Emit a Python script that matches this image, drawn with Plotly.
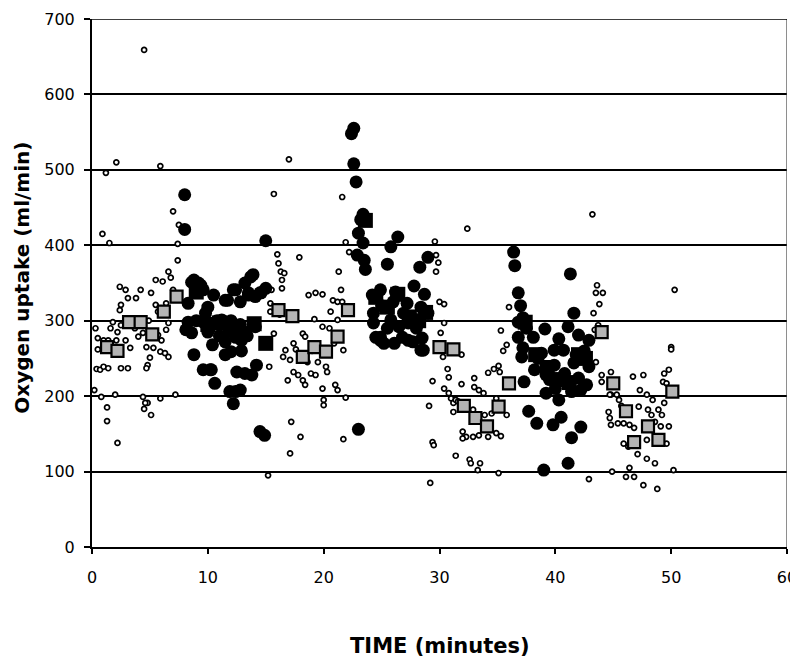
import plotly.graph_objects as go

# ---------------- data ----------------
# small open circles: breath-by-breath recovery data (time in min, VO2 in ml/min)
open_x = [
    0.3, 0.5, 0.5, 0.4, 0.2, 0.8, 1.3, 1.3, 2.2, 2.0, 0.9, 1.5, 1.2, 2.1, 4.5, 5.9,
    1.0, 1.4, 2.1, 2.9, 1.8, 1.6, 2.5, 0.7, 1.0, 1.4, 2.5, 3.1,
    2.4, 2.9, 3.1, 3.8, 4.2, 5.1, 2.5, 2.4, 5.5, 6.4, 5.7,
    3.7, 4.0, 4.4, 5.7, 6.4, 6.0, 3.3, 4.7, 5.3, 5.9, 6.3, 6.6, 5.0, 4.8, 4.7,
    4.4, 5.9, 7.2, 4.8, 4.6, 4.5, 5.1,
    5.5, 6.1, 6.6, 6.8, 7.0, 7.4, 7.4, 7.0, 7.5, 3.0, 4.9, 6.6, 2.2,
    15.2, 15.4, 15.3, 15.5, 15.7, 15.7, 17.0, 16.1, 16.3, 16.4, 16.4, 16.0, 16.6, 16.5, 16.7,
    16.9, 17.4, 17.1, 17.4, 17.8, 18.2, 18.4, 18.2, 18.4, 18.9, 19.3, 19.6, 19.9, 20.5, 19.5,
    19.9, 20.2, 20.3, 20.0, 20.0, 21.0, 21.2, 21.9, 20.9, 21.7, 17.2, 18.0, 17.1, 21.7, 19.2,
    21.2, 17.9, 18.7, 19.3, 19.9, 21.6, 21.9, 22.2, 21.3, 21.5, 20.8, 21.2, 21.6, 20.6, 15.4,
    16.2, 19.0, 18.6, 17.6,
    29.6, 29.7, 29.9, 29.7, 32.4, 30.0, 30.4, 36.0, 30.4, 30.1, 31.9, 30.3, 30.7, 30.8, 29.4,
    31.9, 30.4, 30.8, 33.0, 33.4, 34.2, 34.7, 35.1, 35.2, 33.8, 31.0, 31.2, 31.4, 31.2, 29.1,
    32.9, 33.9, 34.5, 34.9, 35.8, 32.0, 32.3, 32.9, 33.4, 34.2, 34.9, 35.3, 29.4, 29.5, 31.4,
    32.6, 32.7, 33.5, 33.3, 35.1, 29.2, 35.3, 35.8, 35.5, 31.6, 32.0, 33.0,
    43.2, 43.6, 43.5, 44.1, 43.8, 43.3, 43.7, 43.4, 50.3, 50.0, 50.0, 43.5, 44.8, 44.0, 44.0,
    46.7, 47.6, 49.8, 49.4, 49.3, 49.6, 47.3, 47.9, 48.4, 49.4, 44.8, 45.5, 45.7, 47.2, 48.9,
    49.2, 44.6, 44.7, 44.8, 45.4, 45.9, 46.4, 46.8, 48.3, 48.6, 49.8, 45.9, 46.3, 47.9, 49.6,
    47.1, 47.9, 48.6, 46.4, 46.1, 46.8, 47.6, 48.8, 44.9, 42.9, 50.2, 44.7, 45.3, 48.0, 49.1,
]
open_y = [
    290, 277, 262, 236, 208, 199, 185, 167, 138, 202, 415, 403, 496, 510, 659, 505,
    274, 274, 274, 274, 298, 290, 294, 235, 239, 237, 237, 237,
    345, 341, 330, 330, 341, 337, 321, 314, 321, 323, 312,
    290, 279, 284, 281, 288, 274, 264, 265, 264, 259, 257, 252, 251, 241, 237,
    199, 197, 202, 191, 191, 183, 175,
    354, 352, 365, 357, 341, 380, 402, 445, 427, 300, 300, 297, 285,
    95, 312, 239, 341, 283, 468, 514, 376, 365, 354, 343, 388, 363, 252, 261,
    221, 270, 248, 232, 228, 283, 279, 221, 215, 230, 228, 261, 292, 290, 245,
    210, 239, 232, 195, 188, 215, 208, 198, 270, 261, 166, 146, 124, 143, 302,
    301, 384, 334, 337, 335, 464, 404, 391, 365, 341, 327, 325, 325, 312, 323,
    308, 260, 245, 262,
    405, 387, 377, 365, 422, 325, 322, 318, 297, 284, 255, 252, 236, 225, 220,
    216, 210, 204, 224, 208, 231, 236, 240, 232, 204, 197, 191, 195, 179, 187,
    182, 175, 177, 197, 175, 153, 146, 146, 148, 146, 151, 147, 139, 135, 121,
    116, 111, 111, 102, 98, 85, 287, 268, 260, 193, 144, 212,
    441, 347, 337, 337, 322, 310, 294, 288, 341, 265, 262, 245, 232, 228, 219,
    226, 228, 235, 230, 219, 217, 208, 202, 195, 191, 202, 195, 187, 186, 182,
    175, 179, 171, 162, 164, 164, 162, 158, 175, 166, 160, 137, 133, 142, 137,
    123, 117, 111, 105, 93, 93, 82, 77, 100, 90, 102, 202, 202, 182, 160,
]

# large filled circles: breath-by-breath exercise data
fill_x = [
    8.0, 8.0, 15.0, 13.9, 8.8, 9.4, 10.5, 11.7, 12.2, 12.8, 14.1, 14.5, 13.5, 8.3, 8.6, 9.2,
    9.6, 11.5, 12.4, 13.2, 13.7, 13.5, 14.6, 15.0, 10.0, 8.3, 8.1, 8.6, 9.6, 10.0, 11.2, 11.8,
    12.4, 12.9, 14.1, 8.8, 9.6, 10.3, 10.6, 11.5, 12.0, 12.5, 13.2, 13.8, 14.2, 11.9, 12.4,
    12.2, 14.5, 14.9, 12.8, 10.2, 9.0, 9.8, 10.8, 11.0, 12.0, 12.8, 13.4, 12.9, 11.5, 10.4,
    22.6, 22.4, 22.6, 22.8, 23.4, 23.2, 23.0, 23.4, 26.4, 25.8, 22.9, 23.5, 23.6, 25.5, 28.3,
    29.0, 27.8, 28.7, 23.0, 24.2, 24.9, 26.2, 27.2, 28.4, 29.0, 24.3, 24.9, 25.2, 26.1, 26.8,
    27.7, 28.4, 28.5, 25.8, 27.3, 26.9, 24.3, 24.5, 24.9, 27.3, 28.6, 25.0, 26.0, 25.5, 26.5,
    27.8, 28.0,
    36.4, 36.5, 41.3, 36.8, 37.0, 41.6, 39.1, 40.3, 41.1, 42.9, 37.2, 37.5, 38.1, 37.2, 37.1,
    38.8, 39.9, 40.7, 42.9, 42.0, 37.3, 37.7, 38.4, 39.8, 40.5, 41.4, 42.2, 41.1, 39.0, 39.2,
    40.3, 41.4, 42.7, 39.2, 42.0, 36.8, 36.8, 39.9, 41.6, 42.2, 38.2, 38.5, 39.5, 40.8, 41.8,
    42.5, 40.0,
]
fill_y = [
    467, 421, 406, 361, 354, 347, 334, 327, 341, 325, 332, 337, 337, 323, 351, 350,
    341, 327, 341, 350, 358, 334, 337, 343, 318, 298, 288, 284, 298, 285, 301, 288,
    278, 274, 292, 255, 235, 235, 217, 255, 259, 232, 230, 228, 241, 206, 206,
    190, 153, 148, 208, 235, 300, 310, 300, 280, 300, 295, 280, 260, 272, 268,
    555, 548, 508, 484, 441, 434, 416, 403, 411, 398, 387, 380, 368, 375, 371,
    384, 346, 335, 156, 334, 341, 338, 323, 318, 310, 297, 278, 270, 270, 278,
    272, 261, 277, 301, 297, 310, 310, 278, 274, 274, 261, 320, 325, 290, 292,
    300, 290,
    391, 373, 362, 337, 320, 310, 289, 276, 292, 274, 304, 290, 278, 264, 252,
    257, 241, 261, 239, 281, 219, 180, 164, 162, 172, 145, 159, 111, 102, 204,
    195, 206, 215, 228, 224, 298, 278, 261, 244, 208, 235, 250, 222, 230, 255,
    260, 210,
]

# minute means of exercise data (black squares)
exmean_x = [9.0, 10.0, 11.0, 12.0, 13.0, 14.0, 15.0,
            23.6, 24.5, 25.5, 26.4, 27.4, 28.2, 28.8,
            37.4, 38.3, 39.3, 40.2, 41.2, 42.0, 42.6]
exmean_y = [338, 295, 297, 288, 283, 296, 270,
            433, 331, 318, 335, 305, 300, 311,
            298, 255, 238, 222, 218, 255, 250]

# minute means of recovery data (grey squares)
recmean_x = [1.3, 2.2, 3.2, 4.2, 5.2, 6.2, 7.3,
             16.1, 17.3, 18.2, 19.2, 20.2, 21.2, 22.1,
             30.0, 31.2, 32.1, 33.1, 34.1, 35.1, 36.0,
             44.0, 45.0, 46.1, 46.8, 48.0, 48.9, 50.1]
recmean_y = [265, 260, 298, 298, 282, 312, 332,
             314, 306, 252, 265, 259, 279, 314,
             265, 262, 187, 171, 160, 186, 217,
             285, 217, 180, 139, 160, 142, 206]

x_ticks = [0, 10, 20, 30, 40, 50, 60]
y_ticks = [0, 100, 200, 300, 400, 500, 600, 700]

# ---------------- figure ----------------
fig = go.Figure()
fig.add_trace(go.Scatter(
    x=open_x, y=open_y, mode="markers", name="recovery",
    marker=dict(symbol="circle", size=5, color="white",
                line=dict(color="black", width=1.7))))
fig.add_trace(go.Scatter(
    x=fill_x, y=fill_y, mode="markers", name="exercise",
    marker=dict(symbol="circle", size=13, color="black", line=dict(width=0))))
fig.add_trace(go.Scatter(
    x=exmean_x, y=exmean_y, mode="markers", name="exercise mean",
    marker=dict(symbol="square", size=15, color="black", line=dict(width=0))))
fig.add_trace(go.Scatter(
    x=recmean_x, y=recmean_y, mode="markers", name="recovery mean",
    marker=dict(symbol="square", size=12, color="#b4b4b4",
                line=dict(color="black", width=2.2))))

axis_font = dict(family="DejaVu Sans", size=16, color="black")

fig.update_layout(
    template="none",
    width=790, height=659,
    margin=dict(l=92, r=3, t=19, b=112, autoexpand=False),
    paper_bgcolor="white", plot_bgcolor="white",
    showlegend=False,
    xaxis=dict(range=[0, 60], tickvals=x_ticks, ticktext=[str(v) for v in x_ticks],
               automargin=False, ticklabeloverflow="allow",
               showgrid=False, zeroline=False,
               showline=True, linecolor="black", linewidth=2,
               ticks="outside", ticklen=5, tickwidth=2, tickcolor="black",
               tickfont=axis_font, ticklabelstandoff=10),
    yaxis=dict(range=[0, 700], tickvals=y_ticks, ticktext=[str(v) for v in y_ticks],
               automargin=False, ticklabeloverflow="allow",
               showgrid=True, gridcolor="black", gridwidth=1.6, zeroline=False,
               showline=True, linecolor="black", linewidth=2,
               ticks="outside", ticklen=6, tickwidth=2, tickcolor="black",
               tickfont=axis_font, ticklabelstandoff=6),
    shapes=[
        dict(type="line", xref="x", yref="y", x0=60, x1=60, y0=0, y1=700,
             line=dict(color="#444444", width=1.2)),
        dict(type="line", xref="x", yref="y", x0=0, x1=60, y0=700, y1=700,
             line=dict(color="black", width=1.6)),
    ],
    annotations=[
        dict(text="<b>TIME (minutes)</b>", xref="paper", yref="paper",
             x=0.5, y=-0.1875, xanchor="center", yanchor="middle", showarrow=False,
             font=dict(family="DejaVu Sans", size=21, color="black")),
        dict(text="<b>Oxygen uptake (ml/min)</b>", xref="paper", yref="paper",
             x=-0.1007, y=0.51, xanchor="center", yanchor="middle", textangle=-90,
             showarrow=False,
             font=dict(family="DejaVu Sans", size=20, color="black")),
    ],
)

fig.write_html(
    "out.html",
    config={"displayModeBar": False},
    post_script="document.body.style.margin='0';document.body.style.overflow='hidden';",
)
